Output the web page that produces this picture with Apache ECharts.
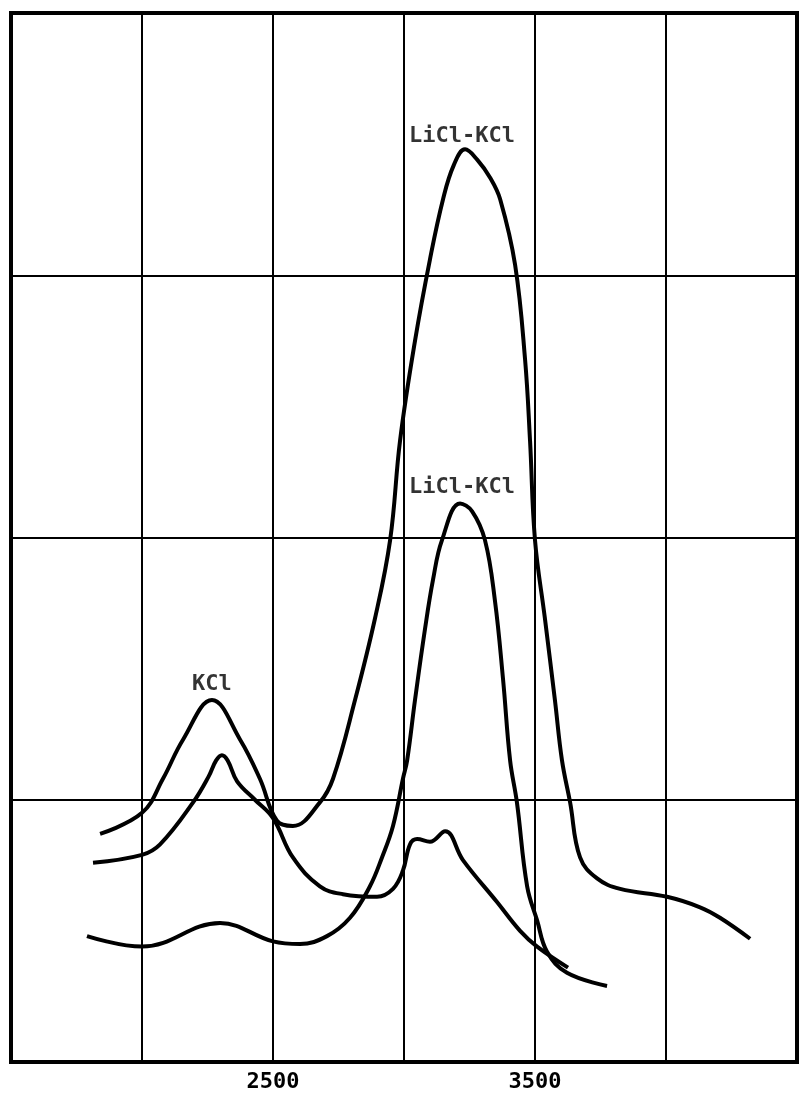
<!DOCTYPE html>
<html>
<head>
<meta charset="utf-8">
<title>KCl / LiCl-KCl</title>
<script src="https://cdn.jsdelivr.net/npm/echarts@6/dist/echarts.min.js"></script>
<style>
  html, body { margin: 0; padding: 0; background: #fff; }
  #chart { width: 801px; height: 1099px; }
</style>
</head>
<body>
<div id="chart"></div>
<script>
// wavelength axis (A), only two ticks carry a label
const xTicks = [2500, 3500];

// KCl curve, runs into the tall LiCl-KCl band
const kclCurve = [
  [1840, 0.87], [2000, 0.95], [2080, 1.08], [2157, 1.23], [2267, 1.38],
  [2374, 1.23], [2450, 1.08], [2515, 0.92], [2576, 0.9], [2679, 0.99],
  [2729, 1.08], [2813, 1.38], [2889, 1.69], [2947, 1.99], [2985, 2.37],
  [3042, 2.75], [3099, 3.06], [3149, 3.29], [3190, 3.42], [3233, 3.48],
  [3280, 3.44], [3330, 3.37], [3367, 3.29], [3424, 3.04], [3462, 2.68],
  [3481, 2.37], [3500, 1.99], [3538, 1.69], [3576, 1.38], [3603, 1.15],
  [3634, 0.99], [3672, 0.78], [3737, 0.7], [3825, 0.66], [4004, 0.63],
  [4130, 0.59], [4206, 0.55], [4321, 0.47]
];

// second curve with the small peak and the double bump
const bumpCurve = [
  [1813, 0.76], [2000, 0.79], [2069, 0.83], [2195, 0.99], [2255, 1.09],
  [2283, 1.15], [2305, 1.17], [2327, 1.15], [2363, 1.07], [2431, 1.0],
  [2500, 0.93], [2576, 0.78], [2679, 0.67], [2767, 0.64], [2897, 0.63],
  [2958, 0.66], [2996, 0.73], [3023, 0.83], [3050, 0.85], [3099, 0.84],
  [3157, 0.88], [3225, 0.77], [3355, 0.61], [3443, 0.5], [3508, 0.44],
  [3626, 0.36]
];

// lower LiCl-KCl curve
const liclCurve = [
  [1790, 0.48], [2000, 0.44], [2298, 0.53], [2500, 0.46], [2603, 0.45],
  [2706, 0.48], [2794, 0.55], [2870, 0.67], [2916, 0.78], [2958, 0.9],
  [2996, 1.08], [3012, 1.15], [3042, 1.38], [3080, 1.65], [3111, 1.84],
  [3145, 1.99], [3214, 2.13], [3260, 2.1], [3309, 1.99], [3347, 1.76],
  [3378, 1.46], [3405, 1.15], [3431, 0.99], [3470, 0.67], [3508, 0.54],
  [3546, 0.42], [3622, 0.34], [3775, 0.29]
];

// curve labels [text, x, y]
const curveLabels = [
  ['KCl', 2267, 1.44],
  ['LiCl-KCl', 3221, 2.19],
  ['LiCl-KCl', 3221, 3.53]
];

const chart = echarts.init(document.getElementById('chart'), null, { renderer: 'canvas' });

function makeLine(name, data) {
  return {
    name: name,
    type: 'line',
    data: data,
    smooth: 0.4,
    showSymbol: false,
    symbol: 'none',
    lineStyle: { color: '#000', width: 4 },
    z: 3
  };
}

chart.setOption({
  backgroundColor: '#fff',
  animation: false,
  grid: {
    left: 11,
    right: 4,
    top: 13,
    bottom: 37,
    show: true,
    borderColor: '#000',
    borderWidth: 4,
    backgroundColor: 'transparent'
  },
  xAxis: {
    type: 'value',
    min: 1500,
    max: 4500,
    interval: 500,
    axisLine: { show: false },
    axisTick: { show: false },
    splitLine: { show: true, lineStyle: { color: '#000', width: 2 } },
    axisLabel: {
      margin: 9,
      fontFamily: 'DejaVu Sans Mono',
      fontWeight: 'bold',
      fontSize: 22,
      color: '#000',
      formatter: function (v) {
        return xTicks.indexOf(v) >= 0 ? String(v) : '';
      }
    }
  },
  yAxis: {
    type: 'value',
    min: 0,
    max: 4,
    interval: 1,
    axisLine: { show: false },
    axisTick: { show: false },
    axisLabel: { show: false },
    splitLine: { show: true, lineStyle: { color: '#000', width: 2 } }
  },
  series: [
    makeLine('KCl', kclCurve),
    makeLine('bump', bumpCurve),
    makeLine('LiCl-KCl', liclCurve),
    {
      // text labels sit on data coords
      type: 'scatter',
      data: curveLabels.map(function (l) {
        return { value: [l[1], l[2]], name: l[0] };
      }),
      symbolSize: 0,
      label: {
        show: true,
        position: 'inside',
        formatter: '{b}',
        color: '#000',
        fontFamily: 'DejaVu Sans Mono',
        fontWeight: 'bold',
        fontSize: 22
      },
      z: 4
    }
  ]
});
</script>
</body>
</html>
